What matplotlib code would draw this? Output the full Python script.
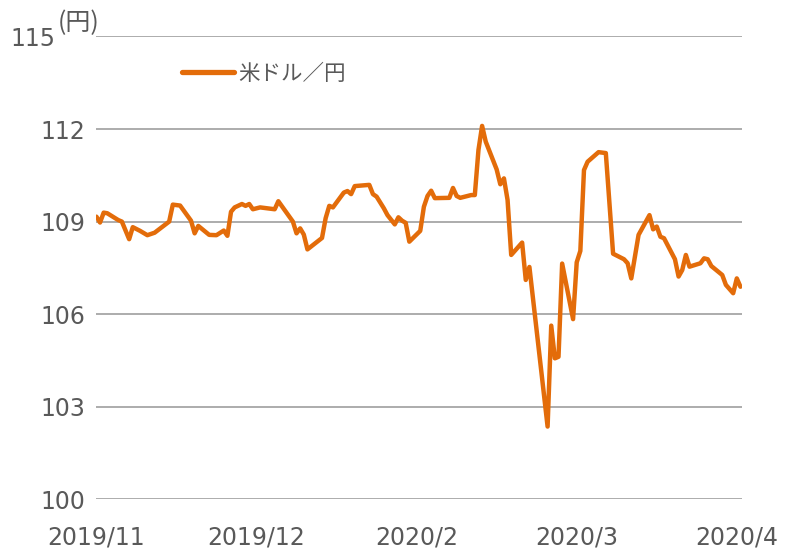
import matplotlib
matplotlib.use('Agg')
import matplotlib.pyplot as plt
import pandas as pd
from matplotlib.transforms import ScaledTranslation

# ---- data ----
start_date = '2019-11-06'
day_offsets = [0, 1, 2, 3, 6, 7, 9, 10, 12, 14, 15, 16, 20, 21, 23, 26, 27, 28, 31, 33,
               35, 36, 37, 38, 40, 41, 42, 43, 45, 49, 50, 54, 55, 56, 57, 58, 62, 63, 64, 65,
               68, 69, 70, 71, 75, 76, 77, 79, 80, 82, 83, 84, 85, 86, 89, 90, 91, 92, 93, 97,
               98, 99, 100, 103, 104, 105, 106, 107, 110, 111, 112, 113, 114, 117, 118, 119, 124, 125, 126, 127,
               128, 131, 132, 133, 134, 135, 138, 140, 142, 145, 146, 147, 149, 152, 153, 154, 155, 156, 159, 160,
               161, 162, 163, 166, 167, 168, 169, 172, 173, 175, 176, 177]
usdjpy = [109.16, 108.97, 109.29, 109.27, 109.05, 109.00, 108.43, 108.82, 108.70, 108.56,
          108.60, 108.64, 109.00, 109.55, 109.52, 109.03, 108.62, 108.86, 108.57, 108.56,
          108.71, 108.54, 109.32, 109.46, 109.57, 109.51, 109.57, 109.40, 109.46, 109.40,
          109.66, 109.00, 108.62, 108.78, 108.58, 108.10, 108.47, 109.11, 109.51, 109.46,
          109.94, 109.99, 109.89, 110.15, 110.19, 109.89, 109.81, 109.43, 109.21, 108.91,
          109.14, 109.03, 108.96, 108.35, 108.70, 109.48, 109.83, 110.00, 109.76, 109.77,
          110.09, 109.83, 109.77, 109.86, 109.86, 111.32, 112.10, 111.59, 110.69, 110.21,
          110.40, 109.70, 107.92, 108.32, 107.11, 107.53, 102.36, 105.63, 104.57, 104.62,
          107.64, 105.84, 107.68, 108.05, 110.67, 110.94, 111.25, 111.22, 107.96, 107.78,
          107.65, 107.16, 108.57, 109.21, 108.75, 108.84, 108.51, 108.46, 107.78, 107.22,
          107.43, 107.92, 107.54, 107.65, 107.81, 107.78, 107.56, 107.27, 106.95, 106.68,
          107.16, 106.89]
series_name = '米ドル／円'
unit_label = '(円)'
y_ticks = [100, 103, 106, 109, 112, 115]
x_tick_dates = ['2019-11-06', '2019-12-20', '2020-02-02', '2020-03-17', '2020-04-30']

assert len(day_offsets) == len(usdjpy)

dates = pd.Timestamp(start_date) + pd.to_timedelta(day_offsets, unit='D')
tick_dates = pd.to_datetime(x_tick_dates)
tick_labels = [f'{d.year}/{d.month}' for d in tick_dates]

# ---- styling ----
orange = '#E36C0A'
grid_c = '#A6A6A6'
text_c = '#595959'
num_font = ['DejaVu Sans', 'Noto Sans CJK JP']
cjk_font = ['Noto Sans CJK JP', 'DejaVu Sans']

fig = plt.figure(figsize=(7.97, 5.5), dpi=100)
ax = fig.add_axes([96.4 / 797, 1 - 499.4 / 550, 645.5 / 797, 463.0 / 550])

line, = ax.plot(dates, usdjpy, color=orange, lw=3.2, solid_joinstyle='round',
                solid_capstyle='round', label=series_name, zorder=3)

ax.set_ylim(100, 115)
ax.set_yticks(y_ticks)
ax.set_yticklabels([str(v) for v in y_ticks], fontsize=17, color=text_c, family=num_font)
ax.set_xlim(pd.Timestamp(start_date), pd.Timestamp(start_date) + pd.Timedelta(days=177.4))
ax.set_xticks(tick_dates)
ax.set_xticklabels(tick_labels, fontsize=17, color=text_c, family=num_font)

ax.tick_params(axis='y', length=0, pad=8)
ax.tick_params(axis='x', length=0, pad=19)
for s in ax.spines.values():
    s.set_visible(False)
ax.grid(axis='y', color=grid_c, lw=1.3)
ax.set_axisbelow(True)

# top tick label shifted left to make room for the unit
for lab in ax.get_yticklabels():
    if lab.get_text() == str(y_ticks[-1]):
        lab.set_transform(lab.get_transform() + ScaledTranslation(-0.30, 0, fig.dpi_scale_trans))

fig.text(58 / 797, 1 - 23 / 550, unit_label, fontsize=18, color=text_c,
         family=cjk_font, ha='left', va='center')

leg = ax.legend(handles=[line], loc='center left',
                bbox_to_anchor=((182 - 96.4) / 645.5, (499.4 - 74) / 463.0),
                frameon=False, borderpad=0, borderaxespad=0, handlelength=2.4,
                handletextpad=0.2, prop={'family': cjk_font, 'size': 15.5})
for t in leg.get_texts():
    t.set_color(text_c)
for h in leg.get_lines():
    h.set_linewidth(3.8)
    h.set_solid_capstyle('round')

fig.savefig('out.png', dpi=100)
